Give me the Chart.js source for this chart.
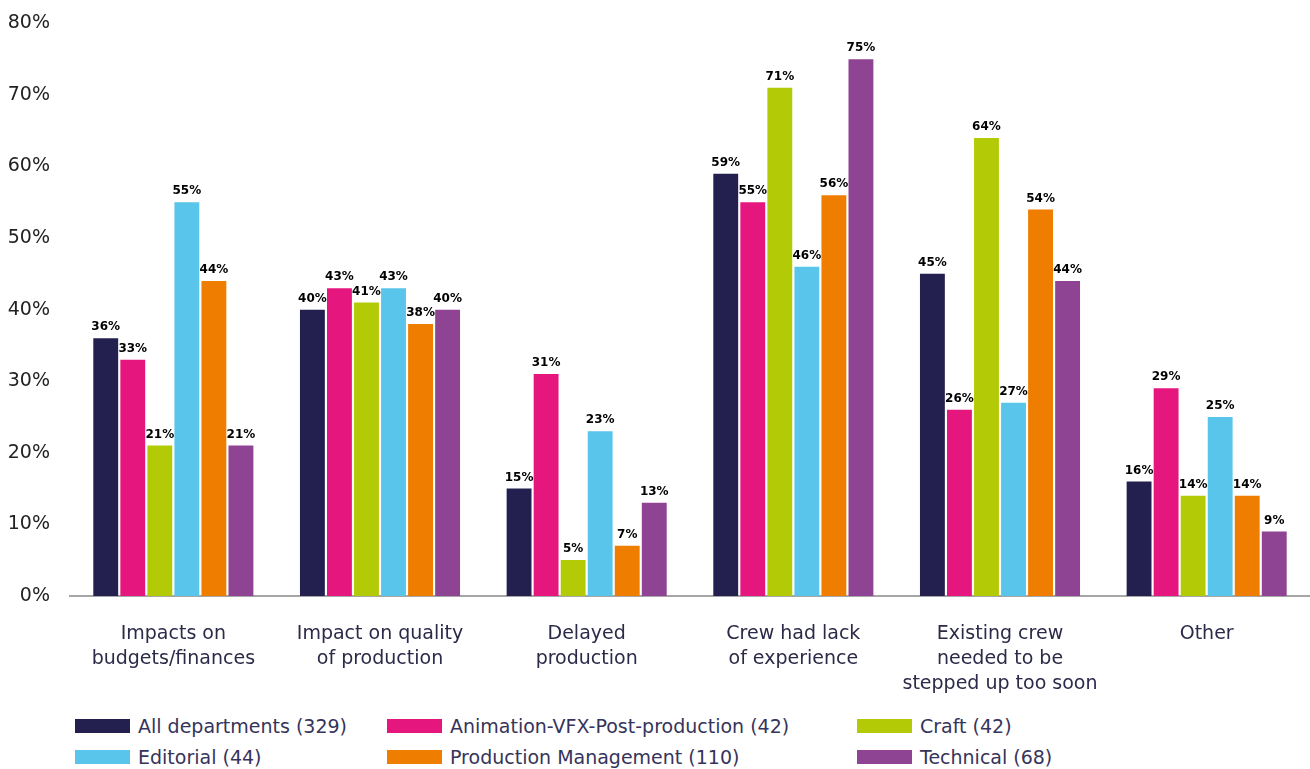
<!DOCTYPE html>
<html>
<head>
<meta charset="utf-8">
<script src="https://cdn.jsdelivr.net/npm/chart.js@4/dist/chart.umd.min.js"></script>
<style>
  html, body { margin: 0; padding: 0; background: #fff; overflow: hidden; }
  #wrap { position: relative; width: 1310px; height: 730px; margin-top: -8px; }
  #legend {
    display: grid;
    grid-template-columns: 312px 470px 400px;
    row-gap: 9px;
    padding-left: 75px;
    margin-top: -7px;
    font-family: "DejaVu Sans", sans-serif;
    font-size: 19px;
    color: #36345a;
  }
  .item { display: flex; align-items: center; height: 22px; white-space: nowrap; }
  .box { width: 55px; height: 14px; margin-right: 8px; flex: none; }
</style>
</head>
<body>
<div id="wrap"><canvas id="chart"></canvas></div>
<div id="legend"></div>
<script>
const categories = [
  ["Impacts on", "budgets/finances"],
  ["Impact on quality", "of production"],
  ["Delayed", "production"],
  ["Crew had lack", "of experience"],
  ["Existing crew", "needed to be", "stepped up too soon"],
  ["Other"]
];
const seriesNames = [
  "All departments (329)",
  "Animation-VFX-Post-production (42)",
  "Craft (42)",
  "Editorial (44)",
  "Production Management (110)",
  "Technical (68)"
];
const seriesColors = ["#23204f", "#e5177e", "#b3cb07", "#5ac5ea", "#ef7d00", "#8e4493"];

const allDepartments = [36, 40, 15, 59, 45, 16];
const animationVfx   = [33, 43, 31, 55, 26, 29];
const craft          = [21, 41, 5, 71, 64, 14];
const editorial      = [55, 43, 23, 46, 27, 25];
const productionMgmt = [44, 38, 7, 56, 54, 14];
const technical      = [21, 40, 13, 75, 44, 9];

const seriesValues = [allDepartments, animationVfx, craft, editorial, productionMgmt, technical];

// labels on top of each bar
const valueLabels = {
  id: "valueLabels",
  afterDatasetsDraw(chart) {
    const ctx = chart.ctx;
    ctx.save();
    ctx.font = "bold 12px 'DejaVu Sans', sans-serif";
    ctx.fillStyle = "#000";
    ctx.textAlign = "center";
    ctx.textBaseline = "bottom";
    chart.data.datasets.forEach((ds, i) => {
      chart.getDatasetMeta(i).data.forEach((bar, j) => {
        ctx.fillText(ds.data[j] + "%", bar.x, bar.y - 5);
      });
    });
    ctx.restore();
  }
};

new Chart(document.getElementById("chart"), {
  type: "bar",
  data: {
    labels: categories,
    datasets: seriesValues.map((vals, i) => ({
      label: seriesNames[i],
      data: vals,
      backgroundColor: seriesColors[i],
      barPercentage: 0.92,
      categoryPercentage: 0.785
    }))
  },
  options: {
    responsive: true,
    maintainAspectRatio: false,
    animation: false,
    layout: { padding: { top: 5, right: 0, left: 0 } },
    plugins: { legend: { display: false }, tooltip: { enabled: false } },
    scales: {
      y: {
        min: 0,
        max: 80,
        afterFit(scale) { scale.width = 70; },
        ticks: {
          stepSize: 10,
          callback: v => v + "%",
          color: "#222",
          font: { family: "DejaVu Sans", size: 19 },
          padding: 20
        },
        grid: { display: false, drawTicks: false },
        border: { display: false }
      },
      x: {
        ticks: {
          color: "#2b2a48",
          font: { family: "DejaVu Sans", size: 19, lineHeight: 1.3 },
          padding: 26,
          maxRotation: 0
        },
        grid: { display: false, drawTicks: false },
        border: { color: "#a6a6a6", width: 2 }
      }
    }
  },
  plugins: [valueLabels]
});

const legend = document.getElementById("legend");
seriesNames.forEach((name, i) => {
  const item = document.createElement("div");
  item.className = "item";
  item.innerHTML = `<span class="box" style="background:${seriesColors[i]}"></span><span>${name}</span>`;
  legend.appendChild(item);
});
</script>
</body>
</html>
